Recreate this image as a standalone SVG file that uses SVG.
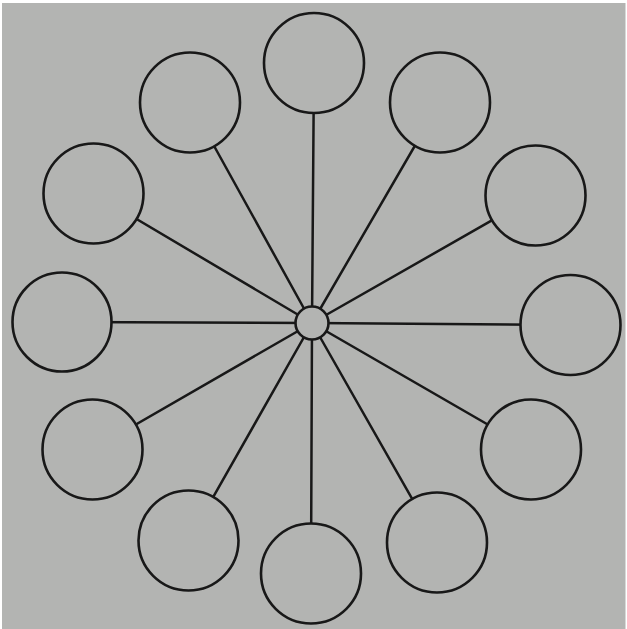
<svg xmlns="http://www.w3.org/2000/svg" width="627" height="629" viewBox="0 0 627 629">
  <style>
    .edge { stroke: #181818; stroke-width: 2.5; fill: none; stroke-linecap: round; }
    .node { stroke: #181818; stroke-width: 2.6; fill: #b3b4b2; }
  </style>
  <rect x="0" y="0" width="627" height="629" fill="#ffffff"/>
  <rect x="2" y="3" width="623.5" height="626" fill="#b3b4b2"/>
  <g id="connectors">
    <line class="edge" x1="312" y1="323" x2="314" y2="63"/>
    <line class="edge" x1="312" y1="323" x2="440" y2="102.5"/>
    <line class="edge" x1="312" y1="323" x2="535.5" y2="195.5"/>
    <line class="edge" x1="312" y1="323" x2="570.5" y2="325"/>
    <line class="edge" x1="312" y1="323" x2="531" y2="449.5"/>
    <line class="edge" x1="312" y1="323" x2="437" y2="542.5"/>
    <line class="edge" x1="312" y1="323" x2="311" y2="573.5"/>
    <line class="edge" x1="312" y1="323" x2="188.5" y2="540.5"/>
    <line class="edge" x1="312" y1="323" x2="92.5" y2="449.5"/>
    <line class="edge" x1="312" y1="323" x2="62" y2="322"/>
    <line class="edge" x1="312" y1="323" x2="93.5" y2="193.5"/>
    <line class="edge" x1="312" y1="323" x2="190" y2="102.5"/>
  </g>
  <g id="hub"><circle class="node" cx="312" cy="323" r="16.5"/></g>
  <g id="n1"><circle class="node" cx="314" cy="63" r="50"/></g>
  <g id="n2"><circle class="node" cx="440" cy="102.5" r="50"/></g>
  <g id="n3"><circle class="node" cx="535.5" cy="195.5" r="50"/></g>
  <g id="n4"><circle class="node" cx="570.5" cy="325" r="50"/></g>
  <g id="n5"><circle class="node" cx="531" cy="449.5" r="50"/></g>
  <g id="n6"><circle class="node" cx="437" cy="542.5" r="50"/></g>
  <g id="n7"><circle class="node" cx="311" cy="573.5" r="50"/></g>
  <g id="n8"><circle class="node" cx="188.5" cy="540.5" r="50"/></g>
  <g id="n9"><circle class="node" cx="92.5" cy="449.5" r="50"/></g>
  <g id="n10"><circle class="node" cx="62" cy="322" r="49.5"/></g>
  <g id="n11"><circle class="node" cx="93.5" cy="193.5" r="50"/></g>
  <g id="n12"><circle class="node" cx="190" cy="102.5" r="50"/></g>
</svg>
